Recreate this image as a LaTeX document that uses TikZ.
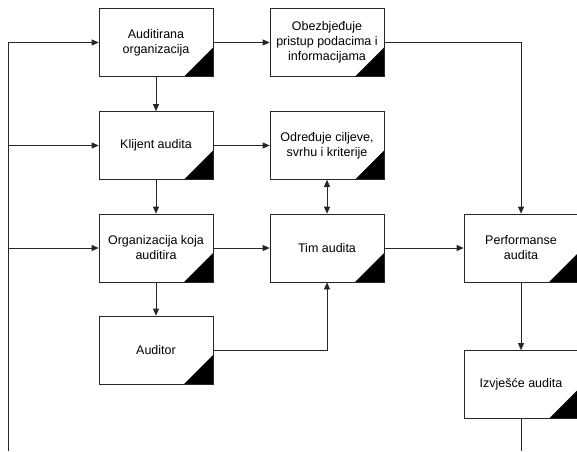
\documentclass[tikz,border=0pt]{standalone}
\usepackage{fontspec}
\setmainfont{Liberation Sans}
\usetikzlibrary{arrows.meta}
\tikzset{
  korak/.style={draw=black!85,line width=0.7pt,fill=white,minimum width=114pt,minimum height=68pt,
    inner sep=2pt,align=center,font=\fontsize{12.5}{15}\selectfont,
    path picture={\fill[black] (path picture bounding box.south east) -- ++(-29pt,0pt) -- ++(29pt,29pt) -- cycle;}},
  veza/.style={line width=0.7pt,draw=black!85}
}

\begin{document}
\begin{tikzpicture}[x=1pt,y=-1pt,>={Triangle[length=7pt,width=6pt]},cap=butt]
        \useasboundingbox (0,0) rectangle (577,451);
        % draw the boxes
        \node[korak] (org) at (156,42.5) {Auditirana\\organizacija};
        \node[korak] (pristup) at (327,42.5) {Obezbjeđuje\\pristup podacima i\\informacijama};
        \node[korak] (klijent) at (156,145.5) {Klijent audita};
        \node[korak] (ciljevi) at (327,145.5) {Određuje ciljeve,\\svrhu i kriterije};
        \node[korak] (auditira) at (156,248) {Organizacija koja\\auditira};
        \node[korak] (tim) at (327,248) {Tim audita};
        \node[korak] (auditor) at (156,350) {Auditor};
        \node[korak] (perf) at (521,248) {Performanse\\audita};
        \node[korak] (izvj) at (521,384.5) {Izvješće audita};
        % the line on the left
        \coordinate (busdno) at (8,451);
        \coordinate (busvrh) at (8,42.5);
        \coordinate (izlaz) at (521,451);
        \draw[veza] (busdno) -- (busvrh);
        \draw[veza,->] (busvrh) -- (org.west);
        \draw[veza,->] (busvrh |- klijent.west) -- (klijent.west);
        \draw[veza,->] (busvrh |- auditira.west) -- (auditira.west);
        % draw the connections
        \draw[veza,->] (org) -- (pristup);
        \draw[veza,->] (org) -- (klijent);
        \draw[veza,->] (klijent) -- (ciljevi);
        \draw[veza,->] (klijent) -- (auditira);
        \draw[veza,->] (auditira) -- (tim);
        \draw[veza,->] (auditira) -- (auditor);
        \draw[veza,<->] (ciljevi) -- (tim);
        \draw[veza,->] (auditor.east) -| (tim.south);
        \draw[veza,->] (pristup.east) -| (perf.north);
        \draw[veza,->] (tim) -- (perf);
        \draw[veza,->] (perf) -- (izvj);
        \draw[veza] (izvj.south) -- (izlaz);
    \end{tikzpicture}
\end{document}
